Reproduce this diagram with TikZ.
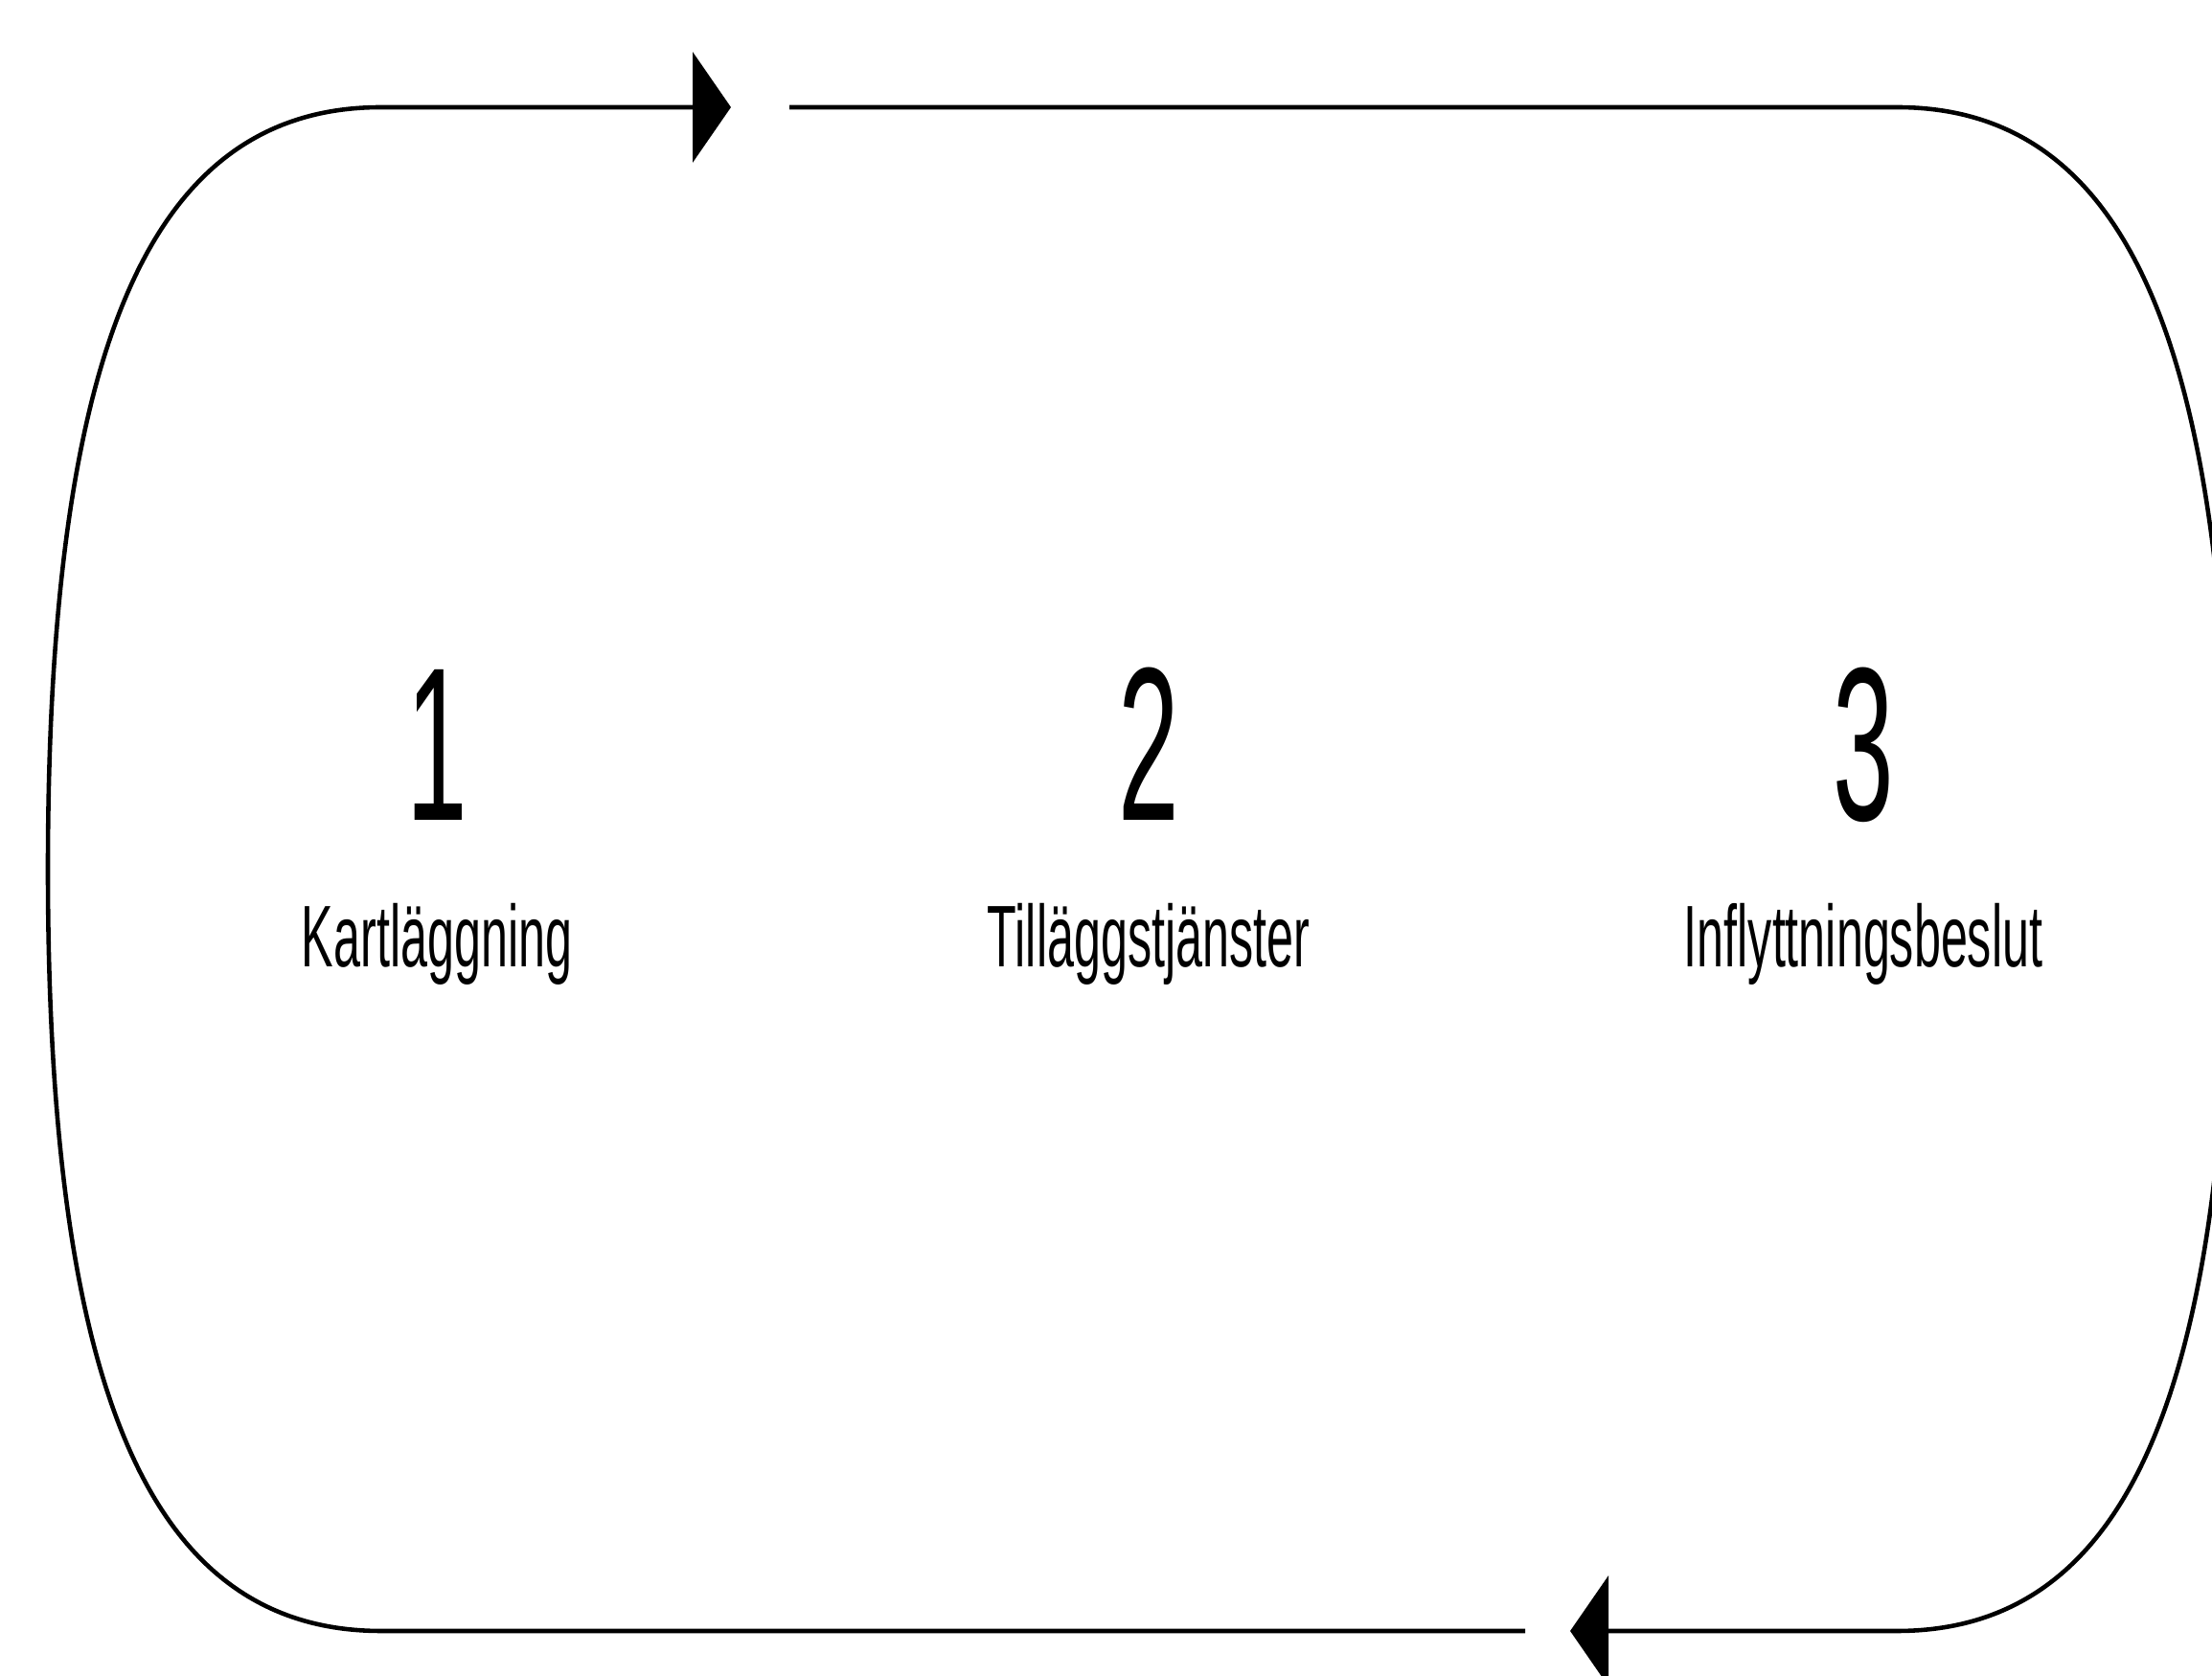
\documentclass[tikz,border=0pt]{standalone}
\usepackage{fontspec}
\usepackage{tikz}
\usetikzlibrary{arrows.meta,positioning}
\newfontfamily\stagefont[FakeStretch=0.55]{Liberation Sans}
\newfontfamily\numfont[FakeStretch=0.5]{Liberation Sans}

\begin{document}
\begin{tikzpicture}[
  flow/.style={-{Triangle[length=4mm,width=11.5mm]},line width=1.3pt,draw=black},
  stagenum/.style={anchor=base,inner sep=0pt,font=\numfont\fontsize{65}{70}\selectfont},
  stagename/.style={anchor=base,inner sep=0pt,font=\stagefont\fontsize{26}{30}\selectfont},
]
  \clip (0,0) rectangle (23.09,17.49);
  \fill[white] (0,0) rectangle (23.09,17.49);
  % corners of the loop and the ends beside the gaps
  \coordinate (tl) at (3.98,16.37);
  \coordinate (tr) at (19.80,16.37);
  \coordinate (bl) at (3.98,0.46);
  \coordinate (br) at (19.80,0.46);
  \coordinate (lmid) at (0.50,8.415);
  \coordinate (rmid) at (23.28,8.415);
  \coordinate (toptip) at (7.63,16.37);
  \coordinate (topgap) at (8.24,16.37);
  \coordinate (bottip) at (16.39,0.46);
  \coordinate (botgap) at (15.92,0.46);
  % stages
  \node[stagenum] (one) at (4.56,8.92) {1};
  \node[stagenum] (two) at (11.99,8.92) {2};
  \node[stagenum] (three) at (19.45,8.92) {3};
  \node[stagename] (kart) at ([yshift=-1.53cm]one.base) {Kartläggning};
  \node[stagename] (till) at ([yshift=-1.53cm]two.base) {Tilläggstjänster};
  \node[stagename] (infl) at ([yshift=-1.53cm]three.base) {Inflyttningsbeslut};
  % the loop
  \draw[flow] (topgap) -- (tr)
    .. controls +(2.40,0) and +(0,5.49) .. (rmid)
    .. controls +(0,-5.49) and +(2.40,0) .. (br) -- (bottip);
  \draw[flow] (botgap) -- (bl)
    .. controls +(-2.40,0) and +(0,-5.49) .. (lmid)
    .. controls +(0,5.49) and +(-2.40,0) .. (tl) -- (toptip);
\end{tikzpicture}
\end{document}
